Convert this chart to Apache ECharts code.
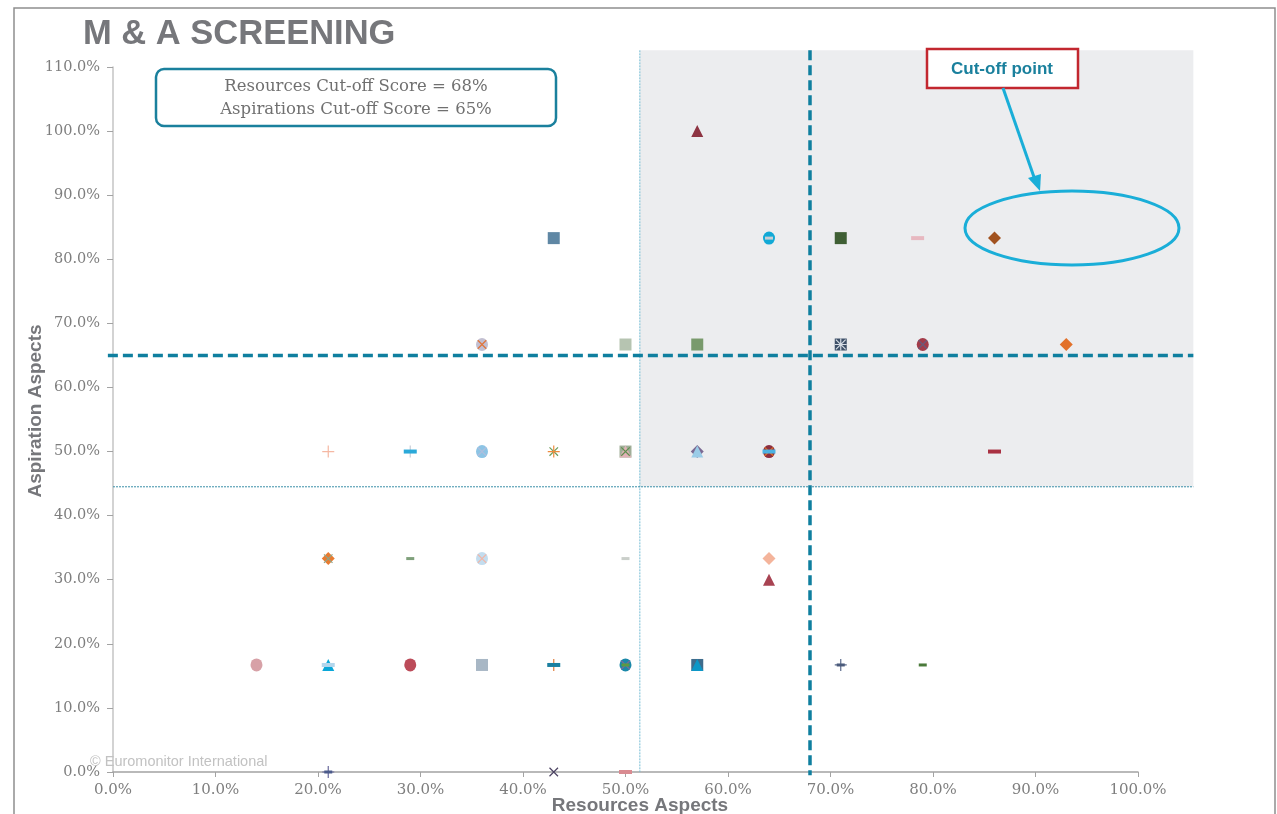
<!DOCTYPE html>
<html>
<head>
<meta charset="utf-8">
<title>M &amp; A Screening</title>
<script src="https://cdn.jsdelivr.net/npm/echarts@6/dist/echarts.min.js"></script>
<style>
  html, body { margin: 0; padding: 0; background: #ffffff; }
  #chart { width: 1277px; height: 814px; }
</style>
</head>
<body>
<div id="chart"></div>
<script>
// ---- Scores: [resources %, aspiration %] per candidate, grouped by marker ----
const squarePts   = [[43, 83.3], [71, 83.3], [50, 66.7], [57, 66.7], [71, 66.7], [50, 50], [36, 16.7], [57, 16.7]];
const circlePts   = [[64, 83.3], [36, 66.7], [79, 66.7], [36, 50], [64, 50], [36, 33.3], [14, 16.7], [29, 16.7], [50, 16.7]];
const diamondPts  = [[86, 83.3], [93, 66.7], [57, 50], [21, 33.3], [64, 33.3]];
const trianglePts = [[57, 100], [50, 50], [57, 50], [64, 30], [21, 16.7], [57, 16.7]];
const crossPts    = [[36, 66.7], [79, 66.7], [36, 50], [43, 50], [50, 50], [64, 50], [21, 33.3], [36, 33.3], [50, 16.7], [43, 0]];
const starPts     = [[71, 66.7]];
const plusPts     = [[21, 50], [29, 50], [43, 50], [43, 16.7], [71, 16.7], [21, 0]];
const dashPts     = [[78.5, 83.3], [29, 50], [64, 50], [86, 50], [21, 16.7], [43, 16.7], [50, 0]];
const shortDashPts = [[64, 83.3], [29, 33.3], [50, 33.3], [50, 16.7], [71, 16.7], [79, 16.7], [21, 0]];

// ---- Cut-off scores and quadrant guides (in %) ----
const resourcesCutoff = 68;
const aspirationsCutoff = 65;
const quadrantLeft = 51.4;
const quadrantBottom = 44.5;
const guideRight = 105.4;
const guideTop = 112.6;

// ---- Axis ticks ----
const xTicks = [0, 10, 20, 30, 40, 50, 60, 70, 80, 90, 100];
const yTicks = [0, 10, 20, 30, 40, 50, 60, 70, 80, 90, 100, 110];

// ---- Marker colours (one per point, in the same order) ----
const squareColors   = ['#5F87A4', '#3F5F34', '#B6C4B1', '#799A6C', '#3D4F67', '#A0AE98', '#A8B7C5', '#3F6C8C'];
const circleColors   = ['#12A9D6', '#C2BFD1', '#A33B49', '#8DC4E5', '#8C2F40', '#C3DDEF', '#D7A1A7', '#BC4B59', '#1B88A9'];
const diamondColors  = ['#A1521F', '#E2712A', '#7B6A93', '#E97B30', '#F4B49B'];
const triangleColors = ['#8D3442', '#E0B2B6', '#9ACCE7', '#A84352', '#0AA7D8', '#0D97C7'];
const crossColors    = ['#E0743A', '#6A5A7A', '#B0BEDD', '#6E9C5C', '#5E8E4E', '#E07020', '#8FA58A', '#F2B5A5', '#7B6A9C', '#4B4262'];
const starColors     = ['#D5DCE4'];
const plusColors     = ['#F5B8A3', '#C7CDD8', '#F08B3D', '#E07F3E', '#5B6A8C', '#6A6A9C'];
const dashColors     = ['#E7B8C0', '#2BA9D9', '#4CB2E2', '#A93142', '#B3D6EC', '#1A80A1', '#D98B91'];
const shortDashColors = ['#C9CFD4', '#7FA07B', '#CACFCA', '#5B9B41', '#4B5B7B', '#4A7A3B', '#4B5B8B'];

const PLUS_PATH = 'path://M0,5.4H12V6.6H0Z M5.4,0H6.6V12H5.4Z';
const STAR_PATH = 'path://M0,5.4H12V6.6H0Z M5.4,0H6.6V12H5.4Z M1.5,0.7L11.3,10.5L10.5,11.3L0.7,1.5Z M10.5,0.7L11.3,1.5L1.5,11.3L0.7,10.5Z';

const serif = 'DejaVu Serif';
const sans = 'Liberation Sans, Arial, sans-serif';

function markerSeries(points, colors, symbol, size, extra) {
  return Object.assign({
    type: 'scatter',
    symbol: symbol,
    symbolSize: size,
    z: 3,
    data: points.map((p, i) => ({ value: p, itemStyle: { color: colors[i] } })),
    itemStyle: { opacity: 1 },
    emphasis: { disabled: true },
    silent: true
  }, extra || {});
}

// Quadrant shading, guide lines and cut-off lines, placed through the axes
function renderGuides(params, api) {
  const c = (x, y) => api.coord([x, y]);
  const tl = c(quadrantLeft, guideTop);
  const br = c(guideRight, quadrantBottom);
  const vThinTop = c(quadrantLeft, guideTop), vThinBot = c(quadrantLeft, 0);
  const hThinL = c(0, quadrantBottom), hThinR = c(guideRight, quadrantBottom);
  const cutV = api.value(0), cutH = api.value(1);
  const vTop = c(cutV, guideTop), vBot = c(cutV, -0.5);
  const hL = c(-0.5, cutH), hR = c(guideRight, cutH);
  return {
    type: 'group',
    children: [
      { type: 'rect', shape: { x: tl[0], y: tl[1], width: br[0] - tl[0], height: br[1] - tl[1] }, style: { fill: '#ECEDEF' } },
      { type: 'line', shape: { x1: vThinTop[0], y1: vThinTop[1], x2: vThinBot[0], y2: vThinBot[1] }, style: { stroke: '#74BCD4', lineWidth: 1, lineDash: [2, 1] } },
      { type: 'line', shape: { x1: hThinL[0], y1: hThinL[1], x2: hThinR[0], y2: hThinR[1] }, style: { stroke: '#3A8EA8', lineWidth: 1, lineDash: [2, 1] } },
      { type: 'line', shape: { x1: hL[0], y1: hL[1], x2: hR[0], y2: hR[1] }, style: { stroke: '#0F7F9F', lineWidth: 3.5, lineDash: [10, 5] } },
      { type: 'line', shape: { x1: vTop[0], y1: vTop[1], x2: vBot[0], y2: vBot[1] }, style: { stroke: '#0F7F9F', lineWidth: 3.5, lineDash: [10, 5] } }
    ]
  };
}

const chart = echarts.init(document.getElementById('chart'), null, { renderer: 'canvas' });

const option = {
  animation: false,
  backgroundColor: '#ffffff',
  title: {
    text: 'M & A SCREENING',
    left: 83,
    top: 17,
    padding: 0,
    textStyle: { fontFamily: sans, fontSize: 34.5, fontWeight: 'bold', color: '#76777B' }
  },
  grid: { left: 113, right: 139, top: 67, bottom: 42 },
  xAxis: {
    type: 'value',
    min: xTicks[0],
    max: xTicks[xTicks.length - 1],
    interval: 10,
    splitLine: { show: false },
    axisLine: { show: true, lineStyle: { color: '#A3A3A3', width: 1.5 } },
    axisTick: { show: true, length: 5, lineStyle: { color: '#A3A3A3', width: 1 } },
    axisLabel: { margin: 11, fontFamily: serif, fontSize: 15, color: '#7E7E7E', formatter: v => v.toFixed(1) + '%' }
  },
  yAxis: {
    type: 'value',
    min: yTicks[0],
    max: yTicks[yTicks.length - 1],
    interval: 10,
    splitLine: { show: false },
    axisLine: { show: true, lineStyle: { color: '#C4C4C4', width: 1.5 } },
    axisTick: { show: true, length: 6, lineStyle: { color: '#A3A3A3', width: 1 } },
    axisLabel: { margin: 13, fontFamily: serif, fontSize: 14.5, color: '#7E7E7E', formatter: v => v.toFixed(1) + '%' }
  },
  series: [
    {
      type: 'custom',
      renderItem: renderGuides,
      clip: false,
      silent: true,
      z: 1,
      data: [[resourcesCutoff, aspirationsCutoff]]
    },
    markerSeries(squarePts, squareColors, 'rect', 12),
    markerSeries(circlePts, circleColors, 'circle', [12, 13]),
    markerSeries(diamondPts, diamondColors, 'diamond', 13),
    markerSeries(trianglePts, triangleColors, 'triangle', 12),
    markerSeries(crossPts, crossColors, PLUS_PATH, 12, { symbolRotate: 45 }),
    markerSeries(starPts, starColors, STAR_PATH, 12),
    markerSeries(plusPts, plusColors, PLUS_PATH, 12),
    markerSeries(dashPts, dashColors, 'rect', [13, 4]),
    markerSeries(shortDashPts, shortDashColors, 'rect', [8, 3])
  ],
  graphic: [
    // outer frame
    { type: 'rect', shape: { x: 14, y: 8, width: 1261, height: 830 }, style: { fill: 'none', stroke: '#8E8E8E', lineWidth: 1.5 }, silent: true, z: 0 },
    // cut-off score box
    { type: 'rect', shape: { x: 156, y: 69, width: 400, height: 57, r: 8 }, style: { fill: '#ffffff', stroke: '#1A809D', lineWidth: 2.5 }, z: 10 },
    { type: 'text', x: 356, y: 87, style: { text: 'Resources Cut-off Score = 68%', fontFamily: serif, fontSize: 16.5, fill: '#707070', align: 'center', verticalAlign: 'middle' }, z: 11 },
    { type: 'text', x: 356, y: 110, style: { text: 'Aspirations Cut-off Score = 65%', fontFamily: serif, fontSize: 16.5, fill: '#707070', align: 'center', verticalAlign: 'middle' }, z: 11 },
    // cut-off point callout
    { type: 'rect', shape: { x: 927, y: 49, width: 151, height: 39 }, style: { fill: '#ffffff', stroke: '#C2272F', lineWidth: 2.5 }, z: 10 },
    { type: 'text', x: 1002, y: 69, style: { text: 'Cut-off point', fontFamily: sans, fontSize: 17, fontWeight: 'bold', fill: '#1A809D', align: 'center', verticalAlign: 'middle' }, z: 11 },
    { type: 'line', shape: { x1: 1003, y1: 88, x2: 1035, y2: 180 }, style: { stroke: '#1AAED8', lineWidth: 3 }, z: 10 },
    { type: 'polygon', shape: { points: [[1040, 191], [1028, 178], [1041, 174]] }, style: { fill: '#1AAED8' }, z: 10 },
    { type: 'ellipse', shape: { cx: 1072, cy: 228, rx: 107, ry: 37 }, style: { fill: 'none', stroke: '#1AAED8', lineWidth: 3 }, z: 10 },
    // axis titles
    { type: 'text', x: 640, y: 806, style: { text: 'Resources Aspects', fontFamily: sans, fontSize: 19, fontWeight: 'bold', fill: '#76777B', align: 'center', verticalAlign: 'middle' }, z: 10 },
    { type: 'text', x: 36, y: 411, rotation: Math.PI / 2, style: { text: 'Aspiration Aspects', fontFamily: sans, fontSize: 19, fontWeight: 'bold', fill: '#76777B', align: 'center', verticalAlign: 'middle' }, z: 10 },
    // copyright
    { type: 'text', x: 90, y: 762, style: { text: '© Euromonitor International', fontFamily: sans, fontSize: 14.5, fill: '#C2C2C2', align: 'left', verticalAlign: 'middle' }, z: 10 }
  ]
};

chart.setOption(option);
</script>
</body>
</html>
